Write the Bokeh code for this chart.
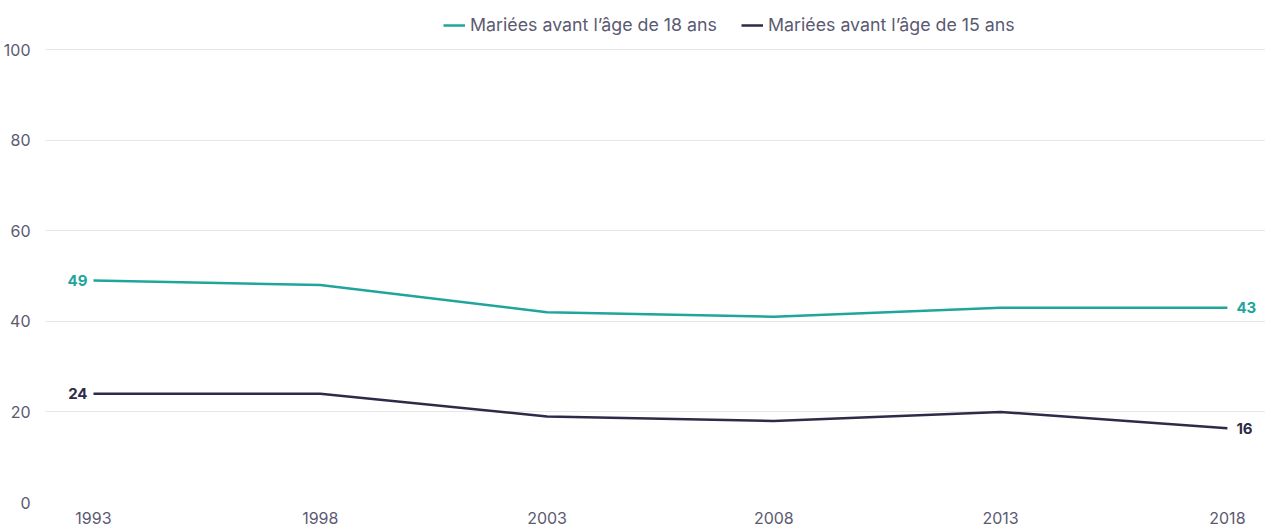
from bokeh.plotting import figure
from bokeh.models import ColumnDataSource, Range1d, Legend, LegendItem, FixedTicker
from bokeh.core.properties import value
from bokeh.embed import file_html
from bokeh.resources import INLINE

years = [1993, 1998, 2003, 2008, 2013, 2018]
married_18 = [49, 48, 42, 41, 43, 43]
married_15 = [24, 24, 19, 18, 20, 16.4]
series_names = ["Mariées avant l\u2019âge de 18 ans", "Mariées avant l\u2019âge de 15 ans"]
label_18 = ["49", "43"]
label_15 = ["24", "16"]
y_ticks = [0, 20, 40, 60, 80, 100]

TEAL = "#1fa59c"
DARK = "#2e2a47"
TEXT = "#5b5a72"
FONT = "Inter"

p = figure(width=1265, height=526, output_backend="svg", toolbar_location=None,
           x_range=Range1d(1991.942, 2018.84), y_range=Range1d(0, 110.82),
           min_border_left=45, min_border_right=0, min_border_top=0, min_border_bottom=24)
p.outline_line_color = None
p.xgrid.grid_line_color = None
p.ygrid.grid_line_color = "#e6e6e6"
p.ygrid.grid_line_width = 1

p.yaxis.ticker = FixedTicker(ticks=y_ticks)
p.xaxis.ticker = FixedTicker(ticks=years)
for ax in (p.xaxis[0], p.yaxis[0]):
    ax.axis_line_color = None
    ax.major_tick_line_color = None
    ax.minor_tick_line_color = None
    ax.major_label_text_color = TEXT
    ax.major_label_text_font = FONT
    ax.major_label_text_font_size = "16px"
p.yaxis.major_label_standoff = 9
p.xaxis.major_label_standoff = 3

src18 = ColumnDataSource(dict(x=years, y=married_18))
src15 = ColumnDataSource(dict(x=years, y=married_15))
r18 = p.line("x", "y", source=src18, line_color=TEAL, line_width=2.5)
r15 = p.line("x", "y", source=src15, line_color=DARK, line_width=2.5)

# end labels
lsrc18 = ColumnDataSource(dict(x=[years[0], years[-1]], y=[married_18[0], married_18[-1]], t=label_18,
                               a=["right", "left"], dx=[-6, 9]))
lsrc15 = ColumnDataSource(dict(x=[years[0], years[-1]], y=[married_15[0], married_15[-1]], t=label_15,
                               a=["right", "left"], dx=[-6, 9]))
for s, c in ((lsrc18, TEAL), (lsrc15, DARK)):
    p.text("x", "y", text="t", source=s, text_align="a", x_offset="dx", text_baseline="middle",
           text_color=c, text_font=value(FONT), text_font_style="bold", text_font_size="15px")

legend = Legend(items=[LegendItem(label=series_names[0], renderers=[r18]),
                       LegendItem(label=series_names[1], renderers=[r15])],
                orientation="horizontal", location=(398, 467),
                border_line_color=None, background_fill_alpha=0,
                label_text_font=FONT, label_text_font_size="17.8px", label_text_color=TEXT,
                glyph_width=22, glyph_height=20, label_standoff=5, spacing=24,
                padding=0, margin=0)
p.add_layout(legend, "center")

open("out.html", "w").write(file_html(p, INLINE))
